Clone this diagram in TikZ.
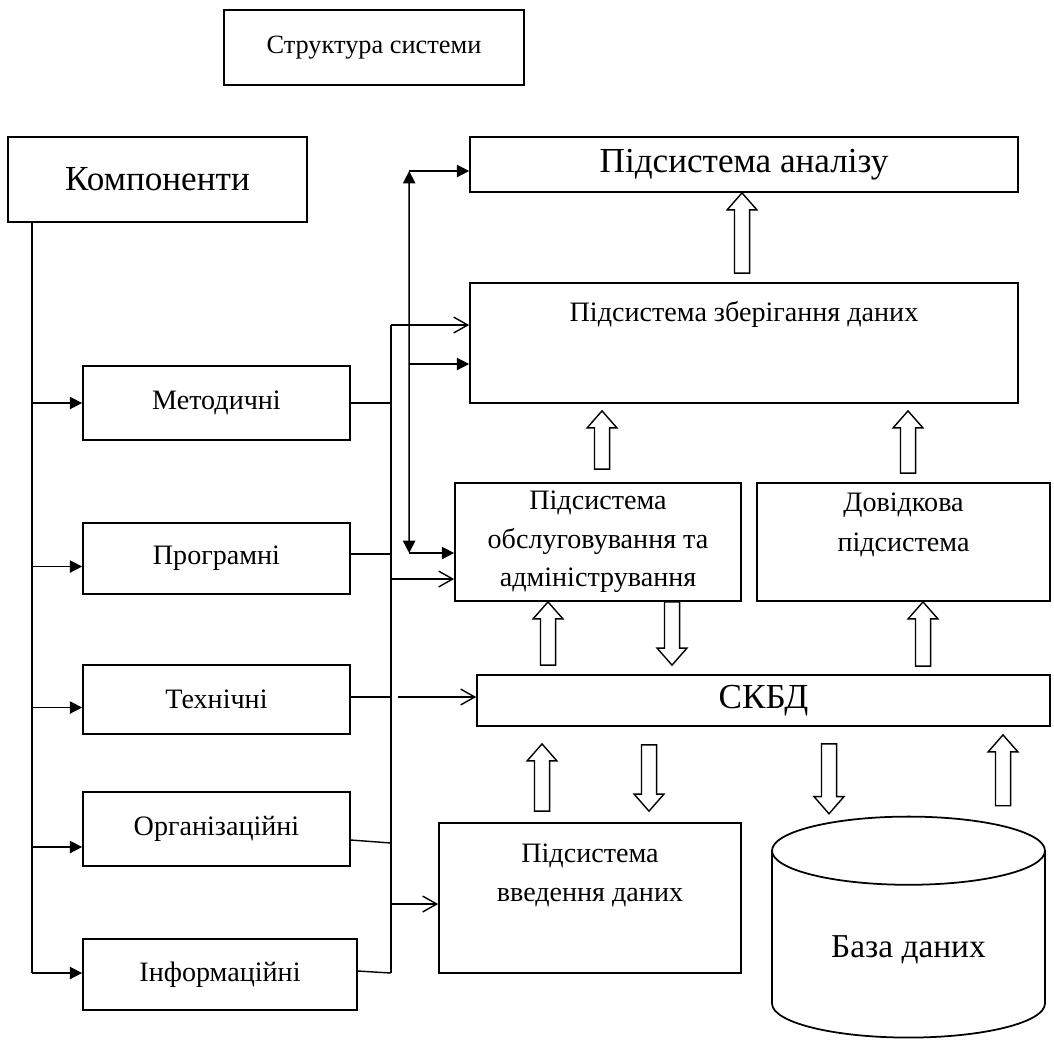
\documentclass[tikz,border=0pt]{standalone}
\usepackage{fontspec}
\setmainfont{Liberation Serif}
\usetikzlibrary{arrows.meta, calc, shapes.geometric}

\newcommand{\blockarrow}[2]{%
  \draw[blockarr] let \p1=#1, \p2=#2, \n1={ifthenelse(\y2>\y1,1,-1)} in
    (\x1-4.3pt,\y1) -- (\x1-4.3pt,\y2-\n1*9.7pt) -- (\x1-8.5pt,\y2-\n1*9.7pt)
    -- (\x1,\y2) -- (\x1+8.5pt,\y2-\n1*9.7pt) -- (\x1+4.3pt,\y2-\n1*9.7pt)
    -- (\x1+4.3pt,\y1) -- cycle;}

\begin{document}
\begin{tikzpicture}[
    x=0.02cm, y=-0.02cm,
    box/.style={draw, line width=1pt, align=center, inner sep=2pt,
        font=\fontsize{16}{22}\selectfont},
    bigbox/.style={box, font=\fontsize{20}{24}\selectfont},
    toplabel/.style={anchor=north, inner sep=0pt, align=center,
        font=\fontsize{16}{22.5}\selectfont},
    wire/.style={line width=0.8pt},
    farrow/.style={wire, -{Triangle[length=7pt, width=7pt]}},
    oarrow/.style={wire, -{Straight Barb[length=8pt, width=9pt]}},
    blockarr/.style={draw, line width=0.8pt, fill=white, line join=miter},
]
\useasboundingbox (0,0) rectangle (1054,1039);

% === Title and components ===
\node[box, minimum width=6cm, minimum height=1.5cm,
      font=\fontsize{15}{20}\selectfont] (title) at (374,47.5) {Структура системи};
\node[bigbox, minimum width=5.98cm, minimum height=1.7cm] (komp) at (157.5,179.5) {Компоненти};

\node[box, minimum width=5.34cm, minimum height=1.48cm] (metod) at (216.5,403) {Методичні};
\node[box, minimum width=5.34cm, minimum height=1.42cm] (progr) at (216.5,558.5) {Програмні};
\node[box, minimum width=5.34cm, minimum height=1.38cm] (tech) at (216.5,699.5) {Технічні};
\node[box, minimum width=5.34cm, minimum height=1.48cm] (org) at (216.5,829) {Організаційні};
\node[box, minimum width=5.48cm, minimum height=1.42cm] (inform) at (220,974.5) {Інформаційні};

% === Subsystems ===
\node[bigbox, minimum width=10.96cm, minimum height=1.1cm] (analysis) at (744,164.5) {Підсистема аналізу};
\node[box, minimum width=10.96cm, minimum height=2.4cm,
      label={[toplabel, yshift=-11pt]north:Підсистема зберігання даних}] (storage) at (744,343) {};
\node[box, minimum width=5.72cm, minimum height=2.36cm] (obsl) at (598,542)
    {Підсистема\\обслуговування та\\адміністрування};
\node[box, minimum width=5.86cm, minimum height=2.36cm,
      label={[toplabel, yshift=-6pt]north:Довідкова\\підсистема}] (dovid) at (903.5,542) {};
\node[bigbox, minimum width=11.46cm, minimum height=1.02cm] (skbd) at (763.5,700.5) {СКБД};
\node[box, minimum width=6.04cm, minimum height=3cm,
      label={[toplabel, yshift=-12pt]north:Підсистема\\введення даних}] (input) at (590,898) {};
\node[cylinder, draw, line width=1pt, shape border rotate=90, aspect=0.41,
      minimum width=5.46cm, minimum height=4.42cm,
      font=\fontsize{19}{23}\selectfont] (db) at (908.5,949.5) {База даних};

% === Left bus ===
\coordinate (bus1) at ($(komp.south west)+(25,0)$);
\draw[wire] (bus1) -- ($(bus1 |- inform.west)+(0,-1.5)$);
\draw[farrow] (bus1 |- metod.west) -- (metod.west);
\draw[farrow] ($(bus1 |- progr.west)+(0,8)$) -- ($(progr.west)+(0,8)$);
\draw[farrow] ($(bus1 |- tech.west)+(0,8)$) -- ($(tech.west)+(0,8)$);
\draw[farrow] ($(bus1 |- org.west)+(0,18)$) -- ($(org.west)+(0,18)$);
\draw[farrow] ($(bus1 |- inform.west)+(0,-1.5)$) -- ($(inform.west)+(0,-1.5)$);

% === Middle bus ===
\coordinate (midbus) at ($(metod.east)+(40,0)$);
\draw[wire] ($(storage.west -| midbus)+(0,-18)$) -- ($(inform.east -| midbus)+(0,-1.5)$);
\draw[wire] (metod.east) -- (metod.east -| midbus);
\draw[wire] ($(progr.east)+(0,-4.5)$) -- ($(progr.east -| midbus)+(0,-4.5)$);
\draw[wire] ($(tech.east)+(0,-2.5)$) -- ($(tech.east -| midbus)+(0,-2.5)$);
\draw[wire] ($(org.east)+(0,11)$) -- ($(org.east -| midbus)+(0,14)$);
\draw[wire] ($(inform.east)+(0,-3.5)$) -- ($(inform.east -| midbus)+(0,-1.5)$);

\draw[oarrow] ($(storage.west -| midbus)+(0,-18)$) -- ($(storage.west)+(0,-18)$);
\draw[oarrow] ($(obsl.west -| midbus)+(0,37)$) -- ($(obsl.west)+(0,37)$);
\draw[oarrow] ($(skbd.west -| midbus)+(7,-3.5)$) -- ($(skbd.west)+(0,-3.5)$);
\draw[oarrow] ($(input.west -| midbus)+(0,6)$) -- ($(input.west)+(0,6)$);

% === Link line ===
\coordinate (linktop) at ($(analysis.west)+(-60,6.5)$);
\coordinate (linkbot) at ($(obsl.west)+(-45,11)$);
\draw[wire, {Triangle[length=7pt, width=7pt]}-{Triangle[length=7pt, width=7pt]}] (linktop) -- (linkbot);
\draw[farrow] (linktop) -- (linktop -| analysis.west);
\draw[farrow] ($(linktop |- storage.west)+(0,21)$) -- ($(storage.west)+(0,21)$);
\draw[farrow] (linkbot) -- (linkbot -| obsl.west);

% === Block arrows ===
\blockarrow{($(storage.north)+(-2,-9)$)}{($(analysis.south)+(-2,0)$)}
\blockarrow{($(obsl.north)+(4,-13)$)}{($(obsl.north |- storage.south)+(4,7)$)}
\blockarrow{($(dovid.north)+(4.5,-9)$)}{($(dovid.north |- storage.south)+(4.5,7)$)}
\blockarrow{($(obsl.south |- skbd.north)+(-50,-9)$)}{($(obsl.south)+(-50,0)$)}
\blockarrow{($(obsl.south)+(74,0)$)}{($(obsl.south |- skbd.north)+(74,-9)$)}
\blockarrow{($(dovid.south |- skbd.north)+(19.5,-8)$)}{($(dovid.south)+(19.5,0)$)}
\blockarrow{($(input.north)+(-48,-11)$)}{($(input.north |- skbd.south)+(-48,17)$)}
\blockarrow{($(input.north |- skbd.south)+(59,18)$)}{($(input.north)+(59,-11)$)}
\blockarrow{($(db.north |- skbd.south)+(-79.5,17)$)}{($(db.north)+(-79.5,-2)$)}
\blockarrow{($(db.north)+(94.5,-10)$)}{($(db.north |- skbd.south)+(94.5,8)$)}

\end{tikzpicture}
\end{document}
